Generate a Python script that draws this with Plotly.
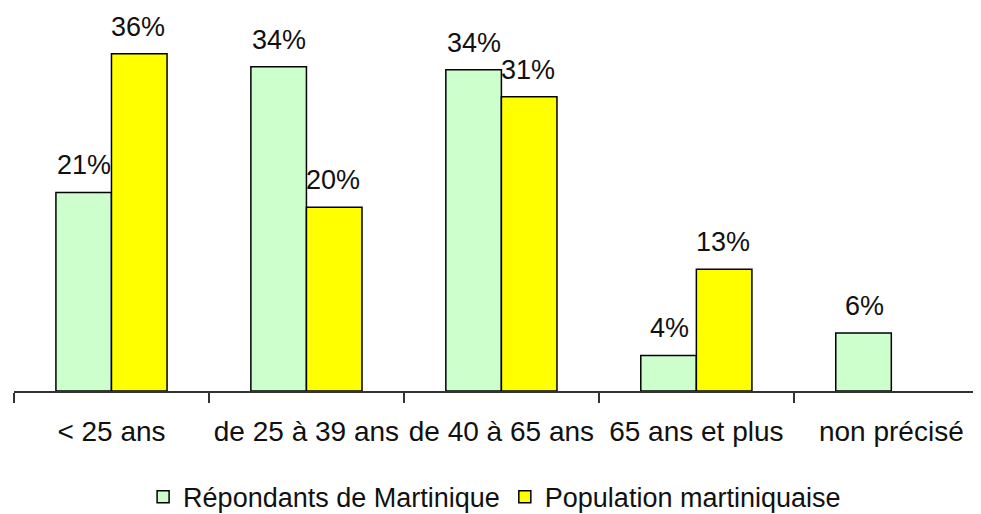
import plotly.graph_objects as go

categories = ["< 25 ans", "de 25 à 39 ans", "de 40 à 65 ans", "65 ans et plus", "non précisé"]
repondants = [21.2, 34.6, 34.3, 3.8, 6.2]
population = [36.0, 19.6, 31.4, 13.0, None]
repondants_labels = ["21%", "34%", "34%", "4%", "6%"]
population_labels = ["36%", "20%", "31%", "13%", ""]
series_names = ["Répondants de Martinique", "Population martiniquaise"]

FONT = "Liberation Sans, Arial, sans-serif"
TXT = "#111111"

fig = go.Figure()
fig.add_trace(go.Bar(
    x=categories, y=repondants, name=series_names[0],
    marker=dict(color="#CCFFCC", line=dict(color="#000000", width=1.5)),
))
fig.add_trace(go.Bar(
    x=categories, y=population, name=series_names[1],
    marker=dict(color="#FFFF00", line=dict(color="#000000", width=1.5)),
))

annotations = []
for vals, labs, shift in ((repondants, repondants_labels, -27), (population, population_labels, 27)):
    for cat, v, lab in zip(categories, vals, labs):
        if v is not None and lab:
            annotations.append(dict(x=cat, y=v, text=lab, xref="x", yref="y", showarrow=False,
                                    xshift=shift, yshift=10, yanchor="bottom",
                                    font=dict(family=FONT, size=27, color=TXT)))

fig.update_layout(
    width=973, height=506,
    margin=dict(l=6, r=0, t=12, b=123, autoexpand=False),
    paper_bgcolor="white", plot_bgcolor="white",
    barmode="group", bargap=0.43, bargroupgap=0,
    showlegend=True,
    legend=dict(orientation="h", x=0.497, xanchor="center", y=-0.286, yanchor="middle",
                font=dict(family=FONT, size=27, color=TXT),
                itemwidth=30, tracegroupgap=0),
    annotations=annotations,
    font=dict(family=FONT, color=TXT),
)
fig.update_xaxes(
    range=[-0.5, 4.46], showline=True, linecolor="#333333", linewidth=2,
    ticks="outside", ticklen=10, tickwidth=2, tickcolor="#333333",
    tickson="boundaries", showgrid=False, tickangle=0, ticklabelstandoff=14,
    tickfont=dict(family=FONT, size=28, color=TXT),
)
fig.update_yaxes(range=[0, 39.6], visible=False, showgrid=False)

fig.write_html("out.html")
